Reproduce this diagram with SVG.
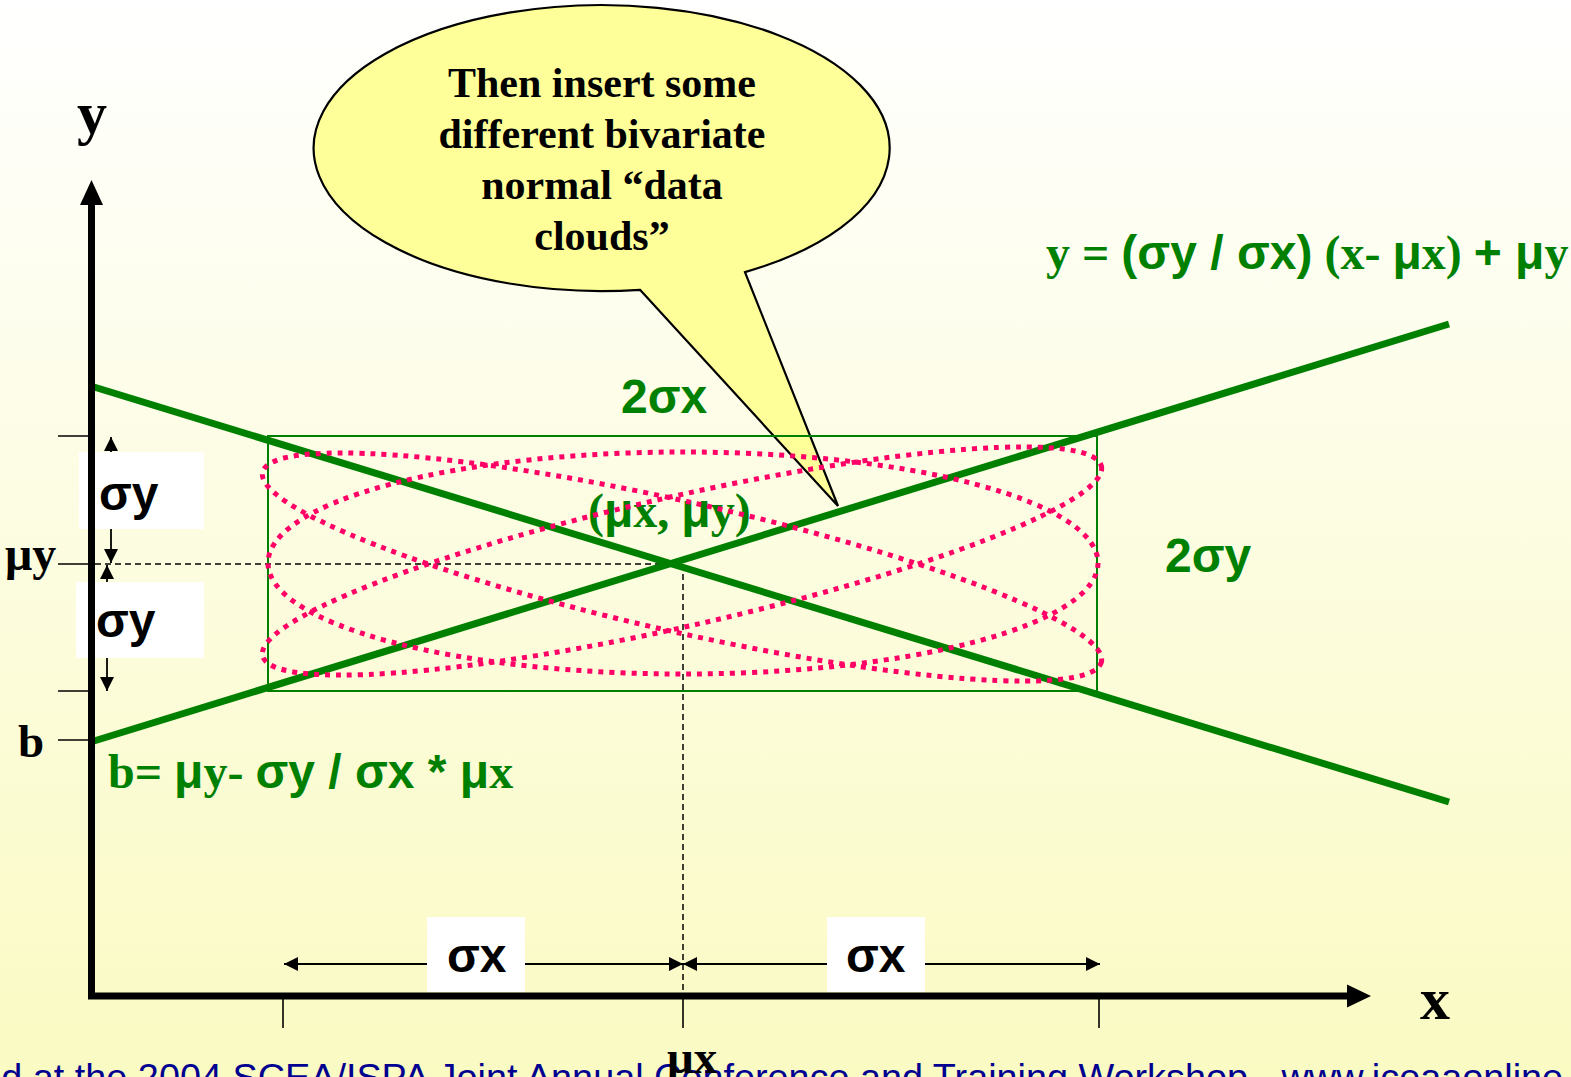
<svg xmlns="http://www.w3.org/2000/svg" width="1571" height="1077" viewBox="0 0 1571 1077">
<defs>
<linearGradient id="bg" x1="0" y1="0" x2="0" y2="1">
<stop offset="0" stop-color="#FFFFFF"/>
<stop offset="1" stop-color="#FAFAC3"/>
</linearGradient>
<marker id="ah" viewBox="0 0 14 14" refX="14" refY="7" markerWidth="14" markerHeight="14" markerUnits="userSpaceOnUse" orient="auto-start-reverse">
<path d="M0,0 L14,7 L0,14 z" fill="#000"/>
</marker>
<style>
.tb{font-family:"Liberation Serif","Times New Roman",serif;font-weight:bold}
.ab{font-family:"Liberation Sans",Arial,sans-serif;font-weight:bold}
.g{fill:#008000}
.k{fill:#000}
.tick{stroke:#000;stroke-width:1.6;fill:none}
.dash{stroke:#000;stroke-width:1.5;stroke-dasharray:6 4;fill:none}
.dim{stroke:#000;stroke-width:1.8;fill:none;marker-start:url(#ah);marker-end:url(#ah)}
.gl{stroke:#008000;stroke-width:7;fill:none}
.cloud{stroke:#FF0066;stroke-width:5;stroke-dasharray:5 6;fill:none}
.wbox{fill:#FFFFFF}
</style>
</defs>
<rect x="0" y="0" width="1571" height="1077" fill="url(#bg)"/>

<g id="footer">
<text x="-150" y="1090" font-family="'Liberation Sans',Arial,sans-serif" font-size="37.8" fill="#000090">Presented at the 2004 SCEA/ISPA Joint Annual Conference and Training Workshop - www.iceaaonline.com</text>
</g>

<g id="callout">
<path d="M640,289.8 L838,506 L745,272.1 A288,143 0 1 0 640,289.8 Z" fill="#FFFF99" stroke="#000" stroke-width="2.2"/>
<text class="tb k" font-size="42" text-anchor="middle"><tspan x="602" y="97">Then insert some</tspan><tspan x="602" y="148">different bivariate</tspan><tspan x="602" y="199">normal “data</tspan><tspan x="602" y="250">clouds”</tspan></text>
</g>

<g id="connectors">
<line class="dash" x1="95" y1="564" x2="683" y2="564"/>
<line class="dash" x1="683" y1="564" x2="683" y2="995"/>
<line class="tick" x1="58" y1="436" x2="92" y2="436"/>
<line class="tick" x1="58" y1="564" x2="92" y2="564"/>
<line class="tick" x1="58" y1="691" x2="92" y2="691"/>
<line class="tick" x1="58" y1="740" x2="92" y2="740"/>
<line class="tick" x1="283" y1="996" x2="283" y2="1028"/>
<line class="tick" x1="683" y1="996" x2="683" y2="1028"/>
<line class="tick" x1="1099" y1="996" x2="1099" y2="1028"/>
<line class="dim" x1="111" y1="437" x2="111" y2="563"/>
<line class="dim" x1="107" y1="565" x2="107" y2="691"/>
<line class="dim" x1="284" y1="964" x2="683" y2="964"/>
<line class="dim" x1="683" y1="964" x2="1100" y2="964"/>
</g>

<g id="sigma-boxes">
<rect class="wbox" x="79" y="452" width="125" height="77"/>
<rect class="wbox" x="76" y="582" width="128" height="76"/>
<rect class="wbox" x="427" y="917" width="98" height="75"/>
<rect class="wbox" x="827" y="917" width="98" height="75"/>
</g>

<g id="box">
<rect x="268" y="436" width="829" height="255" fill="none" stroke="#008000" stroke-width="2"/>
</g>

<g id="regression-lines">
<line class="gl" x1="94" y1="387" x2="1449" y2="802"/>
<line class="gl" x1="94" y1="741" x2="1449" y2="324"/>
</g>

<g id="axes">
<line x1="91.5" y1="999" x2="91.5" y2="203" stroke="#000" stroke-width="7"/>
<path d="M91.5,180 L103,205 L80,205 Z" fill="#000"/>
<line x1="88" y1="996" x2="1348" y2="996" stroke="#000" stroke-width="7"/>
<path d="M1371,996 L1347,984.5 L1347,1007.5 Z" fill="#000"/>
</g>

<g id="labels">
<text class="tb k" x="77" y="133" font-size="60">y</text>
<text class="tb k" x="1420" y="1019" font-size="60">x</text>
<text class="tb k" x="5" y="570" font-size="48">μy</text>
<text class="tb k" x="18" y="757" font-size="47">b</text>
<text class="tb k" x="667" y="1073" font-size="47">μx</text>
<text class="ab k" x="99" y="510" font-size="48">σy</text>
<text class="ab k" x="96" y="637" font-size="48">σy</text>
<text class="ab k" x="447" y="972" font-size="48">σx</text>
<text class="ab k" x="846" y="972" font-size="48">σx</text>
<text class="ab g" x="621" y="413" font-size="48">2σx</text>
<text class="ab g" x="1165" y="572" font-size="48">2σy</text>
<text class="g" x="588" y="527" font-size="48"><tspan class="tb">(</tspan><tspan class="ab">μ</tspan><tspan class="tb">x, </tspan><tspan class="ab">μ</tspan><tspan class="tb">y)</tspan></text>
<text class="g" x="1046" y="269" font-size="48"><tspan class="tb">y = </tspan><tspan class="ab">(σy / σx)</tspan><tspan class="tb"> (x- </tspan><tspan class="ab">μ</tspan><tspan class="tb">x) </tspan><tspan class="ab">+ μ</tspan><tspan class="tb">y</tspan></text>
<text class="g" x="108" y="788" font-size="48"><tspan class="tb">b= </tspan><tspan class="ab">μ</tspan><tspan class="tb">y- </tspan><tspan class="ab">σy / σx * μ</tspan><tspan class="tb">x</tspan></text>
</g>

<g id="clouds">
<ellipse class="cloud" cx="683" cy="563" rx="415" ry="111"/>
<ellipse class="cloud" cx="682" cy="567" rx="430" ry="65" transform="rotate(12.74 682 567)"/>
<ellipse class="cloud" cx="682" cy="561" rx="430" ry="65" transform="rotate(-12.74 682 561)"/>
</g>
</svg>
